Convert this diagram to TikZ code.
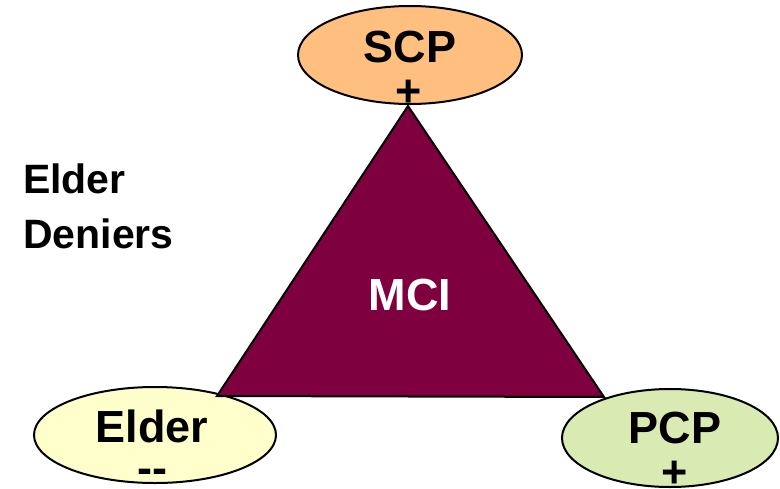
\documentclass[tikz,border=0pt]{standalone}
\usepackage{fontspec}
\setmainfont{Liberation Sans}
\usetikzlibrary{shapes.geometric}
\definecolor{scpfill}{HTML}{FFBF7F}
\definecolor{elderfill}{HTML}{FFFFCC}
\definecolor{pcpfill}{HTML}{D9EAB2}
\definecolor{mcifill}{HTML}{7F003F}
\tikzset{
  role/.style={ellipse, draw=black, line width=2pt, inner sep=0pt},
  rolelabel/.style={anchor=base, inner sep=0pt, font=\fontsize{45}{50}\selectfont\bfseries},
  sign/.style={anchor=base, inner sep=0pt, font=\fontsize{45}{50}\selectfont\bfseries},
}
\begin{document}
\begin{tikzpicture}[x=1pt, y=-1pt]
\useasboundingbox (0,0) rectangle (780,488);

% the three parties
\node[role, fill=scpfill, minimum width=224pt, minimum height=98pt] (scp) at (410,55) {};
\node[role, fill=elderfill, minimum width=242pt, minimum height=96pt] (elder) at (155,435) {};
\node[role, fill=pcpfill, minimum width=216pt, minimum height=98pt] (pcp) at (670,438) {};

% the central triangle
\coordinate (apex) at (408,106);
\coordinate (bl) at (217,396);
\coordinate (br) at (604,397);
\draw[line width=2pt, line join=miter, fill=mcifill] (apex) -- (bl) -- (br) -- cycle;

% labels
\node[rolelabel] (scptext) at (410,62) {SCP};
\node[sign] (scpsign) at (409,106) {+};
\node[rolelabel] (eldertext) at (152,442) {Elder};
\node[sign] (eldersign) at (152,483) {-{}-};
\node[rolelabel] (pcptext) at (675,443) {PCP};
\node[sign] (pcpsign) at (675,487) {+};
\node[rolelabel, text=white] (mci) at (410,310) {MCI};
\node[anchor=base west, inner sep=0pt, font=\fontsize{41}{55}\selectfont\bfseries, align=left] (deniers) at (23,248) {Elder\\Deniers};
\end{tikzpicture}
\end{document}
